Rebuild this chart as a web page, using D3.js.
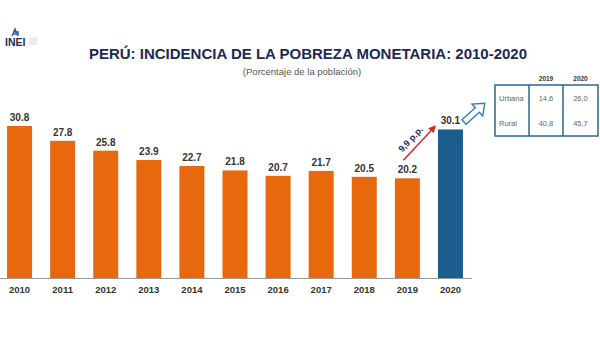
<!DOCTYPE html>
<html lang="es">
<head>
<meta charset="utf-8">
<script src="https://d3js.org/d3.v7.min.js"></script>
<style>
  body { margin: 0; background: #fff; }
  svg text { font-family: "Liberation Sans", Arial, sans-serif; }
</style>
</head>
<body>
<div id="chart"></div>
<script>
// pobreza monetaria, % de la población
var years = ["2010","2011","2012","2013","2014","2015","2016","2017","2018","2019","2020"];
var values = [30.8, 27.8, 25.8, 23.9, 22.7, 21.8, 20.7, 21.7, 20.5, 20.2, 30.1];
var tableCols = ["2019", "2020"];
var tableRows = ["Urbana", "Rural"];
var tableVals = [["14,6", "26,0"], ["40,8", "45,7"]];
var changeLabel = "9,9 p.p.";

var W = 600, H = 337;
var orange = "#e8680d", blue = "#1b5e8e", navy = "#1c2a55";

var svg = d3.select("#chart").append("svg").attr("width", W).attr("height", H);

var x = d3.scaleBand().domain(years).range([-2, 472]).paddingInner(0.42).paddingOuter(0.21);
var y = d3.scaleLinear().domain([0, 30.8]).range([278, 126]);

// logo
var logo = svg.append("g").attr("transform", "translate(5,27)");
logo.append("path").attr("d", "M7,9 L10,2 L13,9 M8,5 L14,5 M8,7 L14,7").attr("fill", "none").attr("stroke", "#2b5aa0").attr("stroke-width", 1.3);
logo.append("text").attr("x", 0).attr("y", 18.5).attr("font-size", 10.5).attr("font-weight", "bold").attr("fill", navy).text("INEI");
[11, 13, 15, 17].forEach(function(yy) {
  logo.append("line").attr("x1", 24).attr("x2", 32).attr("y1", yy).attr("y2", yy).attr("stroke", "#c4c4c4").attr("stroke-width", 0.6);
});

svg.append("text").attr("x", 308).attr("y", 59).attr("text-anchor", "middle")
  .attr("font-size", 15).attr("font-weight", "bold").attr("fill", navy)
  .text("PERÚ: INCIDENCIA DE LA POBREZA MONETARIA: 2010-2020");
svg.append("text").attr("x", 302).attr("y", 75).attr("text-anchor", "middle")
  .attr("font-size", 9.5).attr("fill", "#555").text("(Porcentaje de la población)");

// bars
var bars = svg.append("g");
bars.selectAll("rect").data(years).join("rect")
  .attr("x", function(d) { return x(d); })
  .attr("y", function(d, i) { return y(values[i]); })
  .attr("width", x.bandwidth())
  .attr("height", function(d, i) { return y(0) - y(values[i]); })
  .attr("fill", function(d, i) { return i === years.length - 1 ? blue : orange; });

bars.selectAll("text").data(years).join("text")
  .attr("x", function(d) { return x(d) + x.bandwidth() / 2; })
  .attr("y", function(d, i) { return y(values[i]) - 5; })
  .attr("text-anchor", "middle").attr("font-size", 10).attr("font-weight", "bold").attr("fill", "#333")
  .text(function(d, i) { return values[i].toFixed(1); });

// axis
var axis = svg.append("g").attr("transform", "translate(0," + y(0) + ")")
  .call(d3.axisBottom(x).tickSize(0).tickPadding(8));
axis.select(".domain").attr("d", "M0,0.5H472").attr("stroke", "#999");
axis.selectAll("text").attr("font-size", 9.5).attr("font-weight", "bold").attr("fill", "#333")
  .attr("font-family", "Liberation Sans, Arial, sans-serif");

// change arrow 2019 -> 2020
var n = years.length;
var ax1 = x(years[n - 2]) + x.bandwidth() / 2 - 4, ay1 = y(values[n - 2]) - 18;
var ax2 = x(years[n - 1]) - 3, ay2 = y(values[n - 1]) - 3;
svg.append("defs").append("marker").attr("id", "ah").attr("viewBox", "0 0 10 10")
  .attr("refX", 8).attr("refY", 5).attr("markerWidth", 5).attr("markerHeight", 5).attr("orient", "auto")
  .append("path").attr("d", "M0,0 L10,5 L0,10 Z").attr("fill", "#d9262b");
svg.append("line").attr("x1", ax1).attr("y1", ay1).attr("x2", ax2).attr("y2", ay2)
  .attr("stroke", "#d9262b").attr("stroke-width", 1.5).attr("marker-end", "url(#ah)");
var dx = ax2 - ax1, dy = ay2 - ay1, len = Math.sqrt(dx * dx + dy * dy);
var ang = Math.atan2(dy, dx) * 180 / Math.PI;
var lx = (ax1 + ax2) / 2 + dy / len * 6 - 2, ly = (ay1 + ay2) / 2 - dx / len * 6 + 2;
svg.append("text").attr("transform", "translate(" + lx + "," + ly + ") rotate(" + ang + ")")
  .attr("text-anchor", "middle").attr("font-size", 9).attr("font-weight", "bold").attr("fill", navy).text(changeLabel);

// hollow arrow pointing to the table
svg.append("path")
  .attr("d", "M0,-3 L18,-3 L18,-8 L28,0 L18,8 L18,3 L0,3 Z")
  .attr("transform", "translate(464,122) rotate(-42)")
  .attr("fill", "#fff").attr("stroke", "#3a7cb0").attr("stroke-width", 1.4);

// table
var tx = d3.scaleOrdinal().domain(["label"].concat(tableCols)).range([495, 529, 563]);
var colW = [34, 34, 35];
var ty = d3.scaleBand().domain(tableRows).range([85, 136]);
var tb = svg.append("g");
tb.append("rect").attr("x", 495).attr("y", 85).attr("width", 103).attr("height", 51)
  .attr("fill", "none").attr("stroke", "#2e6590").attr("stroke-width", 1.5);
tableCols.forEach(function(c, j) {
  tb.append("line").attr("x1", tx(c)).attr("x2", tx(c)).attr("y1", 85).attr("y2", 136)
    .attr("stroke", "#2e6590").attr("stroke-width", 1.5);
  tb.append("text").attr("x", tx(c) + colW[j + 1] / 2).attr("y", 81).attr("text-anchor", "middle")
    .attr("font-size", 6.5).attr("font-weight", "bold").attr("fill", "#333").text(c);
});
tableRows.forEach(function(r, i) {
  var yy = ty(r) + ty.bandwidth() / 2 + 3;
  tb.append("text").attr("x", 499).attr("y", yy).attr("font-size", 7.5).attr("fill", "#666").text(r);
  tableCols.forEach(function(c, j) {
    tb.append("text").attr("x", tx(c) + colW[j + 1] / 2).attr("y", yy).attr("text-anchor", "middle")
      .attr("font-size", 7.5).attr("fill", "#666").text(tableVals[i][j]);
  });
});
</script>
</body>
</html>
